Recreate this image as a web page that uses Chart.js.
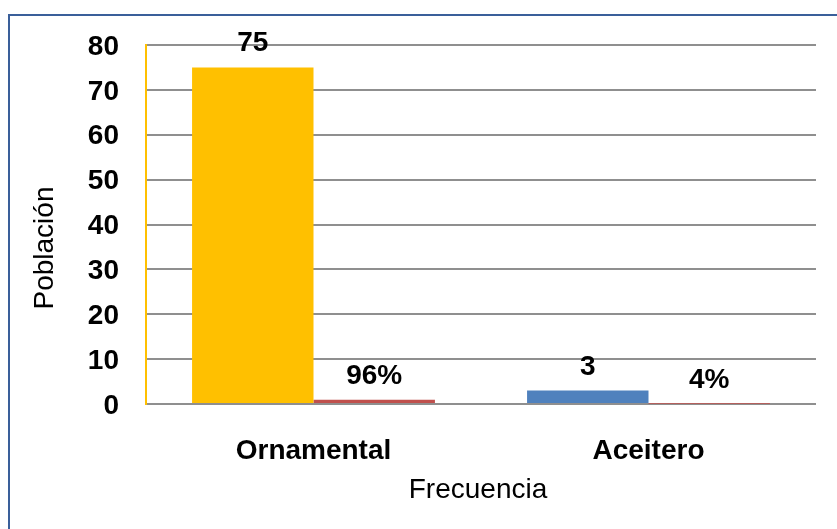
<!DOCTYPE html>
<html>
<head>
<meta charset="utf-8">
<script src="https://cdn.jsdelivr.net/npm/chart.js@4"></script>
<style>
  html, body { margin: 0; padding: 0; background: #fff; overflow: hidden; }
  #wrap { position: relative; width: 837px; height: 529px; }
  #frame { position: absolute; left: 8px; top: 14px; width: 900px; height: 600px; border: 2px solid #3A5F9A; box-sizing: border-box; }
  #chart { position: absolute; left: 0; top: 0; }
</style>
</head>
<body>
<div id="wrap">
  <div id="frame"></div>
  <canvas id="chart" width="837" height="529"></canvas>
</div>
<script>
const categories = ['Ornamental', 'Aceitero'];
const frecuencia = [75, 3];
const porcentaje = [0.96, 0.04];
const frecuenciaLabels = ['75', '3'];
const porcentajeLabels = ['96%', '4%'];
const frecuenciaColors = ['#FFC000', '#4F81BD'];
const porcentajeColor = '#C0504D';
const yTitle = 'Población';
const xTitle = 'Frecuencia';

const FONT = '"Liberation Sans", Arial, sans-serif';

// --- labels above each bar ---
const barLabels = {
  id: 'barLabels',
  afterDatasetsDraw(chart) {
    const ctx = chart.ctx;
    ctx.save();
    ctx.font = `bold 28px ${FONT}`;
    ctx.fillStyle = '#000';
    ctx.textAlign = 'center';
    ctx.textBaseline = 'alphabetic';
    chart.data.datasets.forEach((ds, i) => {
      chart.getDatasetMeta(i).data.forEach((bar, j) => {
        ctx.fillText(ds.valueLabels[j], bar.x, bar.y - 16);
      });
    });
    ctx.restore();
  }
};

// --- axis titles ---
const axisTitles = {
  id: 'axisTitles',
  afterDraw(chart) {
    const ctx = chart.ctx;
    ctx.save();
    ctx.font = `28px ${FONT}`;
    ctx.fillStyle = '#000';
    ctx.textAlign = 'center';
    ctx.textBaseline = 'alphabetic';
    ctx.fillText(xTitle, 478, 498);
    ctx.translate(53, 248);
    ctx.rotate(-Math.PI / 2);
    ctx.fillText(yTitle, 0, 0);
    ctx.restore();
  }
};

new Chart(document.getElementById('chart').getContext('2d'), {
  type: 'bar',
  data: {
    labels: categories,
    datasets: [
      {
        data: frecuencia,
        valueLabels: frecuenciaLabels,
        backgroundColor: frecuenciaColors,
        borderWidth: 0
      },
      {
        data: porcentaje,
        valueLabels: porcentajeLabels,
        backgroundColor: porcentajeColor,
        borderWidth: 0
      }
    ]
  },
  options: {
    responsive: false,
    animation: false,
    categoryPercentage: 0.725,
    barPercentage: 1,
    layout: { padding: { left: 0, right: 21, top: 45, bottom: 0 } },
    plugins: { legend: { display: false }, tooltip: { enabled: false } },
    scales: {
      x: {
        grid: { display: false },
        border: { display: false },
        ticks: { color: '#000', font: { family: FONT, size: 28, weight: 'bold' }, padding: 22 },
        afterFit(scale) { scale.height = 125; }
      },
      y: {
        min: 0,
        max: 80,
        ticks: { stepSize: 10, color: '#000', font: { family: FONT, size: 28, weight: 'bold' }, padding: 27, labelOffset: 2 },
        grid: { color: '#8F8F8F', lineWidth: 2, drawTicks: false },
        border: { color: '#FFC000', width: 2 },
        afterFit(scale) { scale.width = 146; }
      }
    }
  },
  plugins: [barLabels, axisTitles]
});
</script>
</body>
</html>
